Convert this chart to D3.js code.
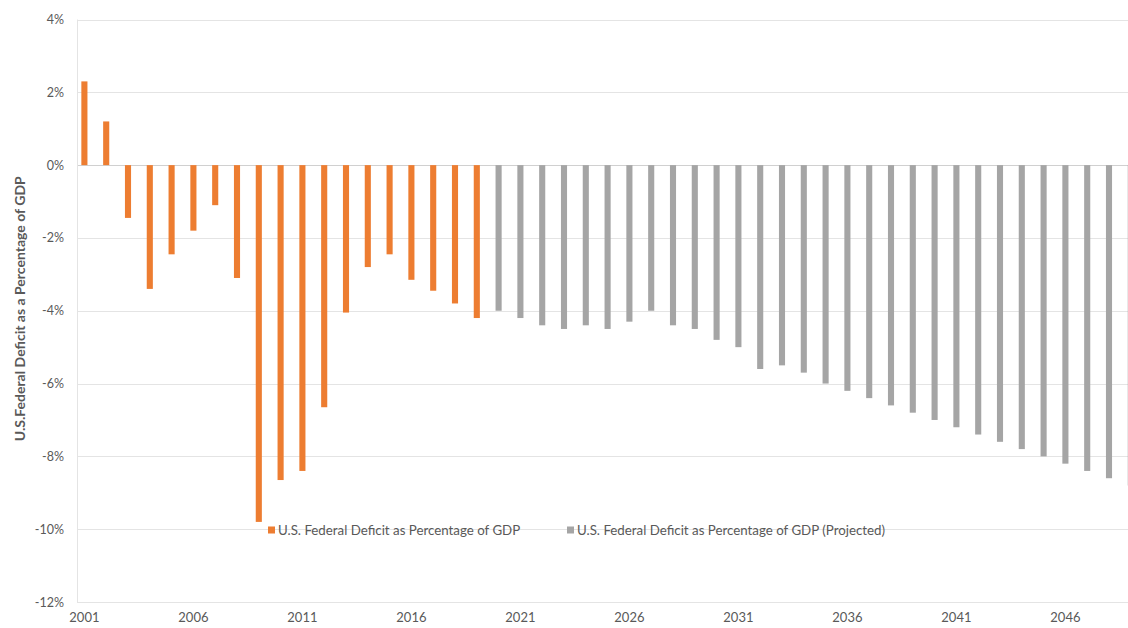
<!DOCTYPE html>
<html>
<head>
<meta charset="utf-8">
<script src="https://cdn.jsdelivr.net/npm/d3@7"></script>
<style>
    body { margin: 0; background: #fff; }
    text { font-family: Lato, "Open Sans", sans-serif; fill: #595959; }
</style>
</head>
<body>
<div id="chart"></div>
<script>
// Deficit (negative) / surplus as % of GDP
const actualYears = d3.range(2001, 2020);
const actualValues = [2.3, 1.2, -1.45, -3.4, -2.45, -1.8, -1.1, -3.1, -9.8, -8.65,
    -8.4, -6.65, -4.05, -2.8, -2.45, -3.15, -3.45, -3.8, -4.2];

const projectedYears = d3.range(2020, 2050);
const projectedValues = [-4.0, -4.2, -4.4, -4.5, -4.4, -4.5, -4.3, -4.0, -4.4, -4.5,
    -4.8, -5.0, -5.6, -5.5, -5.7, -6.0, -6.2, -6.4, -6.6, -6.8,
    -7.0, -7.2, -7.4, -7.6, -7.8, -8.0, -8.2, -8.4, -8.6, -8.8];

const yTicks = [4, 2, 0, -2, -4, -6, -8, -10, -12];
const xTickLabels = [2001, 2006, 2011, 2016, 2021, 2026, 2031, 2036, 2041, 2046];

const seriesNames = [
    'U.S. Federal Deficit as Percentage of GDP',
    'U.S. Federal Deficit as Percentage of GDP (Projected)'
];
const yTitle = 'U.S.Federal Deficit as a Percentage of GDP';

const width = 1128, height = 628;
const plotLeft = 77, plotTop = 19.5, plotBottom = 602;
const orange = '#ED7D31', gray = '#A5A5A5';

const years = actualYears.concat(projectedYears);
const actual = actualYears.map((yr, i) => ({year: yr, value: actualValues[i]}));
const projected = projectedYears.map((yr, i) => ({year: yr, value: projectedValues[i]}));

const svg = d3.select('#chart').append('svg')
    .attr('width', width)
    .attr('height', height);

const x = d3.scaleBand()
    .domain(years)
    .range([73.5, 73.5 + years.length * 21.8])
    .paddingInner(0.72)
    .paddingOuter(0.36);

const y = d3.scaleLinear()
    .domain([-12, 4])
    .range([plotBottom, plotTop]);

// gridlines
svg.append('g')
    .selectAll('line')
    .data(yTicks)
    .join('line')
    .attr('x1', plotLeft)
    .attr('x2', width)
    .attr('y1', d => Math.round(y(d)) + 0.5)
    .attr('y2', d => Math.round(y(d)) + 0.5)
    .attr('stroke', d => d === 0 ? '#d0d0d0' : '#e4e4e4')
    .attr('stroke-width', 1);

svg.append('line')
    .attr('x1', plotLeft + 0.5)
    .attr('x2', plotLeft + 0.5)
    .attr('y1', y(4))
    .attr('y2', y(-12))
    .attr('stroke', '#e4e4e4');

// y axis labels
const yAxis = d3.axisLeft(y)
    .tickValues(yTicks)
    .tickFormat(d => d + '%')
    .tickSize(0)
    .tickPadding(13);

const yAxisG = svg.append('g')
    .attr('transform', 'translate(' + plotLeft + ',0)')
    .call(yAxis);
yAxisG.select('.domain').remove();
yAxisG.selectAll('text')
    .style('font-size', '12.5px')
    .attr('fill', '#595959');

// x axis labels
const xAxis = d3.axisBottom(x)
    .tickValues(xTickLabels)
    .tickSize(0)
    .tickPadding(11);

const xAxisG = svg.append('g')
    .attr('transform', 'translate(0,' + plotBottom + ')')
    .call(xAxis);
xAxisG.select('.domain').remove();
xAxisG.selectAll('text')
    .style('font-size', '13px')
    .attr('fill', '#595959');

// bars
function drawBars(data, color) {
    svg.append('g')
        .selectAll('rect')
        .data(data)
        .join('rect')
        .attr('x', d => x(d.year))
        .attr('width', x.bandwidth())
        .attr('y', d => y(Math.max(0, d.value)))
        .attr('height', d => Math.abs(y(d.value) - y(0)))
        .attr('fill', color);
}
drawBars(actual, orange);
drawBars(projected, gray);

// y title
svg.append('text')
    .attr('transform', 'translate(25,' + ((plotTop + plotBottom) / 2 - 2) + ') rotate(-90)')
    .attr('text-anchor', 'middle')
    .style('font-size', '14px')
    .style('font-weight', 'bold')
    .text(yTitle);

// legend
const legend = svg.append('g')
    .attr('transform', 'translate(268,530)');

const legendItems = [
    {name: seriesNames[0], color: orange, x: 0},
    {name: seriesNames[1], color: gray, x: 299}
];

const item = legend.selectAll('g')
    .data(legendItems)
    .join('g')
    .attr('transform', d => 'translate(' + d.x + ',0)');

item.append('rect')
    .attr('x', 0)
    .attr('y', -3.5)
    .attr('width', 7)
    .attr('height', 7)
    .attr('fill', d => d.color);

item.append('text')
    .attr('x', 10)
    .attr('y', 0)
    .attr('dy', '0.35em')
    .style('font-size', '13.3px')
    .text(d => d.name);
</script>
</body>
</html>
